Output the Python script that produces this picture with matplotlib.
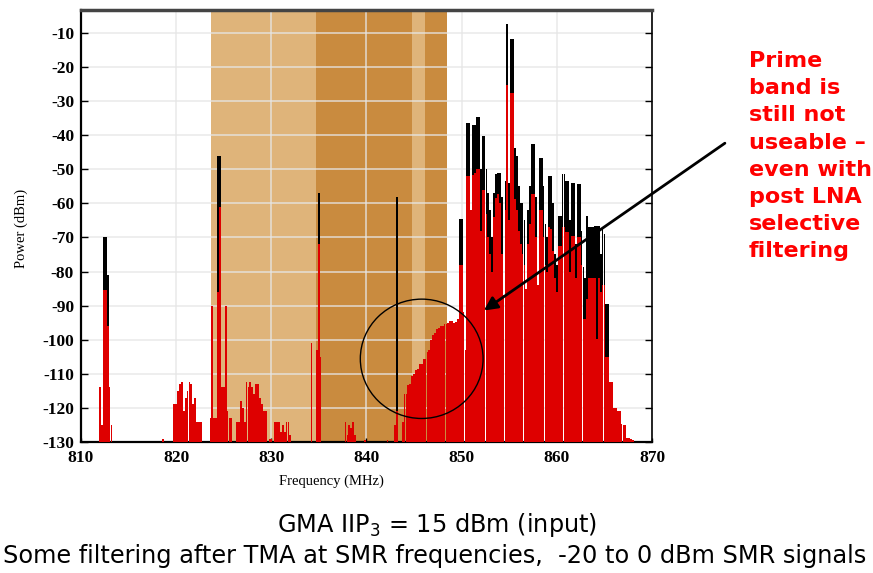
import numpy as np
import matplotlib
matplotlib.use("Agg")
import matplotlib.pyplot as plt
from matplotlib.patches import Ellipse

plt.rcParams["axes.unicode_minus"] = False
nan = np.nan

# ---------------- data ----------------
# spectrum bars: frequency (MHz), black trace peak (dBm), red trace peak (dBm)
freq_mhz = [
    812.0, 812.2, 812.4, 812.6, 812.8, 813.0, 813.2,
    818.6,
    819.8, 820.0, 820.2, 820.4, 820.6, 820.8, 821.0, 821.2, 821.4, 821.6, 821.8, 822.0, 822.2, 822.4, 822.6,
    823.6, 823.8, 824.0, 824.2, 824.4, 824.6, 824.8, 825.0, 825.2, 825.4, 825.6, 825.8,
    826.4, 826.6, 826.8, 827.0, 827.2, 827.4, 827.6, 827.8, 828.0, 828.2, 828.4, 828.6, 828.8, 829.0, 829.2, 829.4,
    829.8, 830.0, 830.4, 830.6, 830.8, 831.0, 831.2, 831.4, 831.6, 831.8, 832.0,
    837.8, 838.0, 838.2, 838.4, 838.6, 838.8, 839.8, 842.2, 843.0,
    843.8, 844.0, 844.2, 844.4, 844.6, 844.8, 845.0, 845.2, 845.4, 845.6, 845.8, 846.0, 846.2, 846.4,
    846.6, 846.8, 847.0, 847.2, 847.4, 847.6, 847.8, 848.0, 848.2, 848.4, 848.6, 848.8, 849.0, 849.2,
    849.4, 849.6,
    849.8, 850.0, 850.2, 850.4, 850.6, 850.8, 851.0, 851.2, 851.4, 851.6, 851.8, 852.0, 852.2, 852.4,
    852.6, 852.8, 853.0, 853.2, 853.4, 853.6, 853.8, 854.0, 854.2, 854.4, 854.6, 854.8, 855.0, 855.2,
    855.4, 855.6, 855.8, 856.0, 856.2, 856.4, 856.6, 856.8, 857.0, 857.2, 857.4, 857.6, 857.8, 858.0,
    858.2, 858.4, 858.6, 858.8, 859.0, 859.2, 859.4, 859.6, 859.8, 860.0, 860.2, 860.4, 860.6, 860.8,
    861.0, 861.2, 861.4, 861.6, 861.8, 862.0, 862.2, 862.4, 862.6, 862.8, 863.0, 863.2, 863.4, 863.6,
    863.8, 864.0, 864.2, 864.4, 864.6, 864.8, 865.0, 865.2, 865.4, 865.6, 865.8, 866.0, 866.2, 866.4,
    866.6, 866.8, 867.0, 867.2, 867.4, 867.6, 867.8, 868.0,
]
black_dbm = [
    nan, nan, -70, -70, -81, nan, nan,
    nan,
    nan, nan, nan, nan, nan, nan, nan, nan, nan, nan, nan, nan, nan, nan, nan,
    nan, nan, nan, nan, -46, -46, nan, nan, nan, nan, nan, nan,
    nan, nan, nan, nan, nan, nan, nan, nan, nan, nan, nan, nan, nan, nan, nan, nan,
    nan, nan, nan, nan, nan, nan, nan, nan, nan, nan, nan,
    nan, nan, nan, nan, nan, nan, nan, nan, nan,
    nan, nan, nan, nan, nan, nan, nan, nan, nan, nan, nan, nan, nan, nan,
    nan, nan, nan, nan, nan, nan, nan, nan, nan, nan, nan, nan, nan, nan,
    nan, nan,
    -64.5, -64.5, nan, nan, -36.4, -36.4, nan, -37, -37, -34.7, -34.7, -50, -40.3, -40.3,
    -50, -57, -62, -70, -57, -51.5, -51, -51, -58, nan, -53.5, -7.4, -54, -11.8,
    -11.8, -43.7, -46, -55, -59.8, -59.8, -65, nan, -62, -55, -42.7, -42.7, -58, nan,
    -46.6, -46.6, -55, -66, -70, -52, -52, -60, -75, -78, -63.7, -63.7, -51.5, -51.5,
    -53.5, -53.5, -65, -54, -54, -72, -54.4, -54.4, -68, -78.7, -82, -63.7, -67, -67,
    -67, -66.6, -66.6, -66.6, -75, -67.6, -69, -89.5, -89.5, nan, nan, nan, nan, nan,
    nan, nan, nan, nan, nan, nan, nan, nan,
]
red_dbm = [
    -114, -125, -85.5, -85.5, -96, -114, -125,
    -129,
    -119, -119, -115, -113, -112.5, -121, -117, -115, -112.5, -113, -119, -117, -124, -124, -124,
    -123, -90, -123, -123, -86, -61, -114, -114, -90, -121, -123, -123,
    -124, -124, -118, -120, -124, -112.5, -114, -112.5, -114, -116, -113, -113, -117, -119, -121, -121,
    -129, -129, -124, -124, -124, -127, -125, -127, -124, -124, -128,
    -124, -128, -125, -126, -124, -128, -129.5, -129.5, -125,
    -124, -116, -116, -113.4, -113, -110.5, -110, -109, -108.5, -107, -107, -105.6, -105.6, -103.6,
    -103, -100, -98.5, -98, -96.8, -96.5, -96, -95.9, -95.5, -95.4, -95, -94.4, -94.5, -95,
    -94.8, -94,
    -78, -78, -92, -103, -52, -52, -62, -51.6, -51, -50, -50, -68, -56, -56,
    -63, -70, -75, -80, -64, -58.5, -57.4, -60, -75, -87, -62, -25.2, -65, -27.6,
    -27.6, -58.6, -62, -68, -72, -75, -78, -85, -72, -66, -57.4, -57.4, -70, -84,
    -62, -62, -70, -78, -80, -67, -67.6, -74, -82, -86, -72.5, -72.5, -67, -67,
    -68.5, -68.5, -80, -69.6, -69.6, -82, -70, -70, -78, -94, -94, -88, -82, -82,
    -82, -82, -99.8, -82, -86, -84, -84, -105, -105, -112.4, -112.4, -120, -120, -121,
    -121, -124.6, -125, -125, -128.7, -128.7, -129, -129.5,
]

# single narrow spectral lines
line_freq = [834.2, 834.8, 835.0, 835.2, 843.2]
line_black = [nan, nan, -57, nan, -58]
line_red = [-101, -103, -72, -105, -121]

# shaded frequency bands (MHz)
light_bands = [(823.7, 834.7), (844.8, 846.1)]
dark_bands = [(834.7, 844.8), (846.1, 848.5)]

yticks = list(range(-10, -131, -10))
xticks = [810, 820, 830, 840, 850, 860, 870]
floor = -130

# ---------------- figure ----------------
fig = plt.figure(figsize=(8.73, 5.73), dpi=100)
ax = fig.add_axes([81 / 873, 1 - 442 / 573, (652 - 81) / 873, (442 - 10) / 573])
ax.set_xlim(810, 869.5)
ax.set_ylim(floor, -3.3)

for a, b in light_bands:
    ax.axvspan(a, b, color="#DFB47A", lw=0, zorder=0)
for a, b in dark_bands:
    ax.axvspan(a, b, color="#C98B3F", lw=0, zorder=0)

ax.set_xticks(xticks)
ax.set_yticks(yticks)
ax.grid(True, color="#E6E6E6", alpha=0.8, lw=1.2, zorder=1)
ax.set_axisbelow(True)

f = np.array(freq_mhz)
bk = np.array(black_dbm)
rd = np.array(red_dbm)
m = ~np.isnan(bk)
ax.bar(f[m], bk[m] - floor, bottom=floor, width=0.19, color="black", lw=0, zorder=2)
ax.bar(f, rd - floor, bottom=floor, width=0.19, color="#DE0000", lw=0, zorder=3)

lf = np.array(line_freq)
lb = np.array(line_black)
lr = np.array(line_red)
mm = ~np.isnan(lb)
ax.bar(lf[mm], lb[mm] - floor, bottom=floor, width=0.13, color="black", lw=0, zorder=2)
ax.bar(lf, lr - floor, bottom=floor, width=0.13, color="#DE0000", lw=0, zorder=3)

# circle and arrow annotations
ax.add_patch(Ellipse((845.8, -105.6), width=12.9, height=35, fill=False,
                     ec="black", lw=1.0, zorder=6))
ax.annotate("", xy=(852.1, -91.9), xytext=(877.9, -41.9),
            arrowprops=dict(arrowstyle="-|>", lw=2.0, color="black", mutation_scale=20),
            annotation_clip=False, zorder=7)

# spines / ticks
for s in ["left", "bottom"]:
    ax.spines[s].set_linewidth(1.6)
    ax.spines[s].set_color("black")
ax.spines["top"].set_linewidth(2.5)
ax.spines["top"].set_color("#444444")
ax.spines["right"].set_linewidth(1.2)
ax.spines["right"].set_color("black")

ax.tick_params(axis="y", direction="in", left=True, right=True, length=5, width=1, pad=5,
               labelsize=12.5)
ax.tick_params(axis="x", direction="in", bottom=True, top=False, length=3, width=1, pad=6,
               labelsize=12.5)
for lab in ax.get_xticklabels() + ax.get_yticklabels():
    lab.set_family("Liberation Serif")
    lab.set_fontweight("bold")

fig.text(21 / 873, 1 - 228 / 573, "Power (dBm)", rotation=90, ha="center", va="center",
         family="Liberation Serif", fontsize=10.5)
fig.text(331 / 873, 1 - 481 / 573, "Frequency (MHz)", ha="center", va="center",
         family="Liberation Serif", fontsize=10.5)

fig.text(437 / 873, 1 - 532 / 573, "GMA IIP$_3$ = 15 dBm (input)", ha="center",
         va="baseline", family="DejaVu Sans", fontsize=17.3)
fig.text(435 / 873, 1 - 563 / 573,
         "Some filtering after TMA at SMR frequencies,  -20 to 0 dBm SMR signals",
         ha="center", va="baseline", family="DejaVu Sans", fontsize=17.3)

fig.text(749 / 873, 1 - 51 / 573,
         "Prime\nband is\nstill not\nuseable \u2013\neven with\npost LNA\nselective\nfiltering",
         ha="left", va="top", color="#FF0000", fontweight="bold", family="DejaVu Sans",
         fontsize=16, linespacing=1.45)

fig.savefig("out.png", dpi=100)
